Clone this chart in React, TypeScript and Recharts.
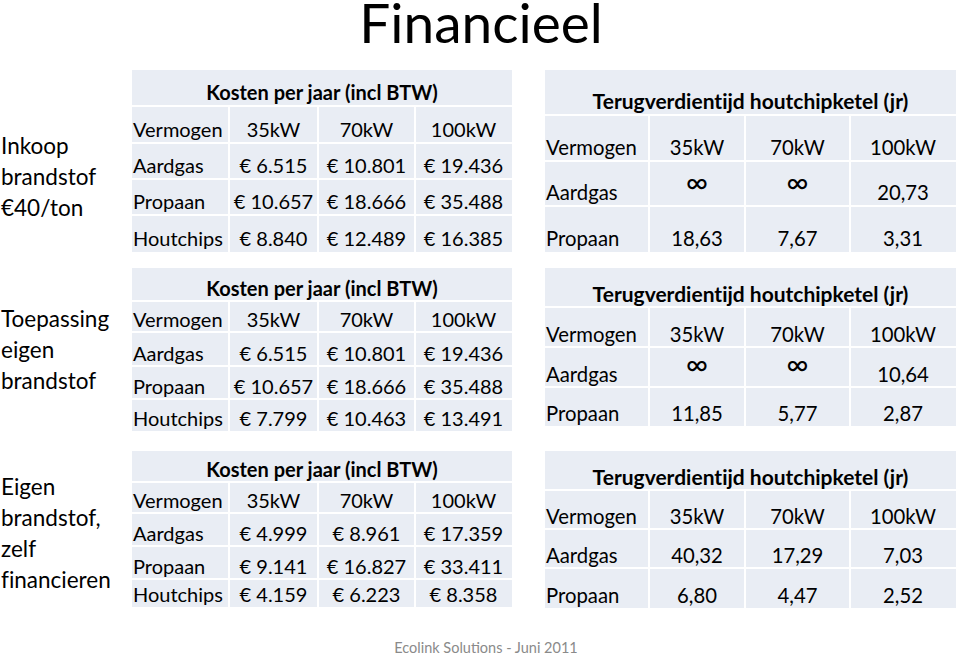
import React from 'react';
import { Surface, Layer, Rectangle } from 'recharts';

const powers = ['35kW', '70kW', '100kW'];
const costFuels = ['Aardgas', 'Propaan', 'Houtchips'];
const paybackFuels = ['Aardgas', 'Propaan'];

const costInkoop = [
  [6515, 10801, 19436],
  [10657, 18666, 35488],
  [8840, 12489, 16385],
];
const costEigen = [
  [6515, 10801, 19436],
  [10657, 18666, 35488],
  [7799, 10463, 13491],
];
const costZelf = [
  [4999, 8961, 17359],
  [9141, 16827, 33411],
  [4159, 6223, 8358],
];

const paybackInkoop = [
  [Infinity, Infinity, 20.73],
  [18.63, 7.67, 3.31],
];
const paybackEigen = [
  [Infinity, Infinity, 10.64],
  [11.85, 5.77, 2.87],
];
const paybackZelf = [
  [40.32, 17.29, 7.03],
  [6.8, 4.47, 2.52],
];

const sectionLabels = [
  ['Inkoop', 'brandstof', '€40/ton'],
  ['Toepassing', 'eigen', 'brandstof'],
  ['Eigen', 'brandstof,', 'zelf', 'financieren'],
];

const costTitle = 'Kosten per jaar (incl BTW)';
const paybackTitle = 'Terugverdientijd houtchipketel (jr)';
const firstColHeader = 'Vermogen';

const FONT = 'Lato, "Open Sans", sans-serif';
const CELL_BG = '#E9EDF4';
const noLig: React.CSSProperties = { fontVariantLigatures: 'none', fontFeatureSettings: '"liga" 0, "clig" 0' };

const fmtEuro = (n: number) => {
  const th = Math.floor(n / 1000);
  const rest = String(n % 1000).padStart(3, '0');
  return `€ ${th}.${rest}`;
};
const fmtYears = (n: number) => (n === Infinity ? '∞' : n.toFixed(2).replace('.', ','));

interface TableProps {
  cols: number[];
  rows: number[];
  title: string;
  body: string[][];
  fontSize: number;
  titleSize: number;
  baseOffset: number;
}

const Table = ({ cols, rows, title, body, fontSize, titleSize, baseOffset }: TableProps) => {
  const left = cols[0];
  const right = cols[cols.length - 1];
  const g = 1;
  const els: React.ReactNode[] = [];
  els.push(
    <Rectangle key="h" x={left} y={rows[0]} width={right - left} height={rows[1] - rows[0] - g} fill={CELL_BG} />
  );
  els.push(
    <text key="ht" x={(left + right) / 2} y={rows[1] - baseOffset} textAnchor="middle" fontFamily={FONT} fontWeight={700} fontSize={titleSize} fill="#000" style={noLig}>
      {title}
    </text>
  );
  body.forEach((row, ri) => {
    const top = rows[ri + 1];
    const bot = rows[ri + 2];
    row.forEach((cell, ci) => {
      const x0 = cols[ci];
      const x1 = cols[ci + 1];
      els.push(
        <Rectangle
          key={`r${ri}c${ci}`}
          x={x0 + (ci === 0 ? 0 : g)}
          y={top + g}
          width={x1 - x0 - (ci === 0 ? g : ci === row.length - 1 ? g : 2 * g)}
          height={bot - top - (ri === body.length - 1 ? g : 2 * g)}
          fill={CELL_BG}
        />
      );
      const isInf = cell === '∞';
      els.push(
        <text
          key={`t${ri}c${ci}`}
          x={ci === 0 ? x0 + 1 : (x0 + x1) / 2}
          y={bot - baseOffset - (isInf ? 7 : 0)}
          textAnchor={ci === 0 ? 'start' : 'middle'}
          fontFamily={FONT}
          fontSize={isInf ? fontSize * 1.5 : fontSize}
          fill="#000"
          style={noLig}
        >
          {cell}
        </text>
      );
    });
  });
  return <Layer>{els}</Layer>;
};

const costBody = (vals: number[][]) => [
  [firstColHeader, ...powers],
  ...costFuels.map((f, i) => [f, ...vals[i].map(fmtEuro)]),
];
const paybackBody = (vals: number[][]) => [
  [firstColHeader, ...powers],
  ...paybackFuels.map((f, i) => [f, ...vals[i].map(fmtYears)]),
];

const leftCols = [132, 229, 318, 415, 512];
const rightCols = [545, 649, 745, 850, 956];

const labelTops = [154, 327, 495];

export default function App() {
  return (
    <div style={{ position: 'fixed', left: 0, top: 0, width: 960, height: 657, background: '#fff' }}>
      <Surface width={960} height={657} viewBox={{ x: 0, y: 0, width: 960, height: 657 }}>
        <text x={481} y={43} textAnchor="middle" fontFamily={FONT} fontSize={55} fill="#000" style={noLig}>
          Financieel
        </text>

        {sectionLabels.map((lines, si) => (
          <text key={si} fontFamily={FONT} fontSize={22.5} fill="#000" style={noLig}>
            {lines.map((l, li) => (
              <tspan key={li} x={1} y={labelTops[si] + li * 31}>
                {l}
              </tspan>
            ))}
          </text>
        ))}

        <Table cols={leftCols} rows={[70, 106, 143, 179, 215, 252]} title={costTitle} body={costBody(costInkoop)} fontSize={20} titleSize={20} baseOffset={6} />
        <Table cols={leftCols} rows={[268, 301, 332, 366, 399, 431]} title={costTitle} body={costBody(costEigen)} fontSize={20} titleSize={20} baseOffset={5} />
        <Table cols={leftCols} rows={[451, 482, 513, 546, 579, 607]} title={costTitle} body={costBody(costZelf)} fontSize={20} titleSize={20} baseOffset={5} />

        <Table cols={rightCols} rows={[70, 115, 161, 206, 252]} title={paybackTitle} body={paybackBody(paybackInkoop)} fontSize={20.3} titleSize={21} baseOffset={6} />
        <Table cols={rightCols} rows={[268, 307, 347, 387, 426]} title={paybackTitle} body={paybackBody(paybackEigen)} fontSize={20.3} titleSize={21} baseOffset={5} />
        <Table cols={rightCols} rows={[451, 490, 529, 568, 608]} title={paybackTitle} body={paybackBody(paybackZelf)} fontSize={20.3} titleSize={21} baseOffset={5} />

        <text x={486} y={653} textAnchor="middle" fontFamily={FONT} fontSize={14.5} fill="#8a8a8a">
          Ecolink Solutions - Juni 2011
        </text>
      </Surface>
    </div>
  );
}
